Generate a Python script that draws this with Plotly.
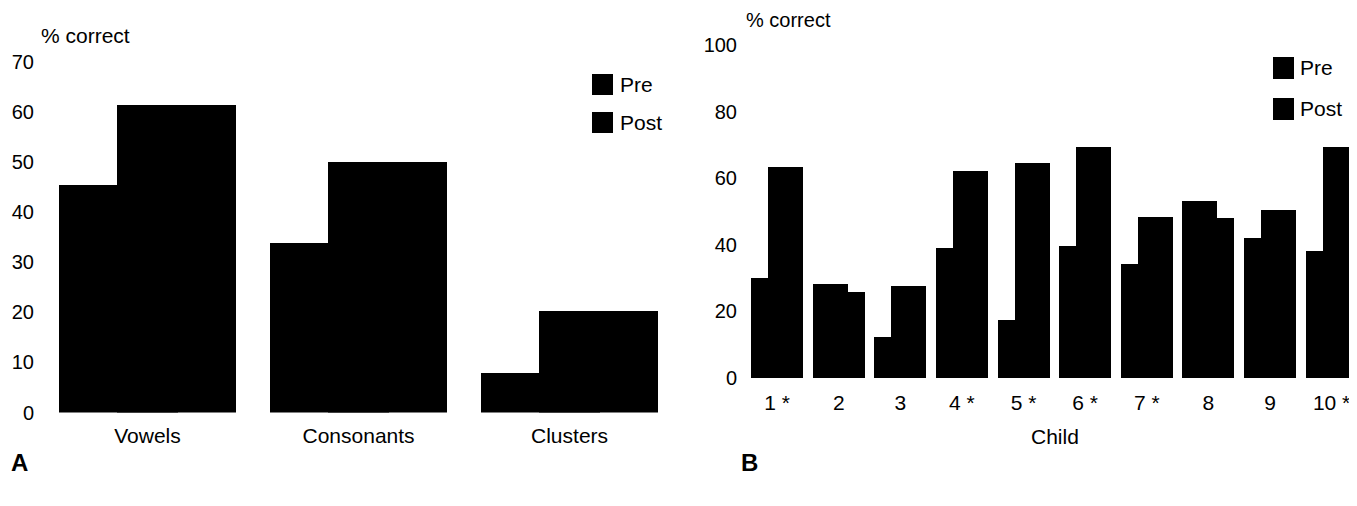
import plotly.graph_objects as go

# ---------------- data ----------------
groups_a = ["Vowels", "Consonants", "Clusters"]
pre_a = [45.5, 33.8, 7.8]
post_a = [61.4, 50.0, 20.2]

children = [1, 2, 3, 4, 5, 6, 7, 8, 9, 10]
child_labels = ["1 *", "2", "3", "4 *", "5 *", "6 *", "7 *", "8", "9", "10 *"]
pre_b = [29.9, 28.1, 12.4, 39.0, 17.3, 39.6, 34.2, 53.1, 42.1, 38.0]
post_b = [63.5, 25.7, 27.5, 62.2, 64.7, 69.3, 48.4, 48.0, 50.5, 69.3]

ticks_a = [0, 10, 20, 30, 40, 50, 60, 70]
ticks_b = [0, 20, 40, 60, 80, 100]

# page body has an 8px default margin; figure sized to fill the rest of the window
OFF = 8
W, H = 1357 - OFF, 506 - OFF
FONT = "Liberation Sans, Arial, Helvetica, sans-serif"


def px(x):
    return (x - OFF) / W


def py(y):
    return 1 - (y - OFF) / H


fig = go.Figure()
xa = list(range(len(groups_a)))

fig.add_trace(go.Bar(x=xa, y=pre_a, offset=-0.4194, width=0.564,
                     marker=dict(color="black", line=dict(width=0)),
                     xaxis="x", yaxis="y", showlegend=False, name="Pre"))
fig.add_trace(go.Bar(x=xa, y=post_a, offset=-0.1445, width=0.564,
                     marker=dict(color="black", line=dict(width=0)),
                     xaxis="x", yaxis="y", showlegend=False, name="Post"))
fig.add_trace(go.Bar(x=children, y=pre_b, offset=-0.4227, width=0.567,
                     marker=dict(color="black", line=dict(width=0)),
                     xaxis="x2", yaxis="y2", showlegend=False, name="Pre"))
fig.add_trace(go.Bar(x=children, y=post_b, offset=-0.145, width=0.567,
                     marker=dict(color="black", line=dict(width=0)),
                     xaxis="x2", yaxis="y2", showlegend=False, name="Post"))

axis_common = dict(showgrid=False, zeroline=False, showline=False, ticks="",
                   tickfont=dict(family=FONT, size=20, color="black"))
cat_font = dict(family=FONT, size=21, color="black")

fig.update_layout(
    width=W, height=H,
    margin=dict(l=0, r=0, t=0, b=0, autoexpand=False),
    paper_bgcolor="white", plot_bgcolor="white",
    barmode="overlay", bargap=0,
    font=dict(family=FONT, color="black"),
    xaxis=dict(domain=[px(40), px(670)], range=[-0.5095, 2.476],
               tickvals=xa, ticktext=groups_a, anchor="y",
               ticklabelstandoff=8, **{**axis_common, "tickfont": cat_font}),
    yaxis=dict(domain=[py(412.5), py(62)], range=[0, 70], tickvals=ticks_a,
               anchor="x", ticklabelstandoff=5, **axis_common),
    xaxis2=dict(domain=[px(744), 1.0], range=[0.4622, 10.544 - OFF / 60.8],
                tickvals=children, ticktext=child_labels, anchor="y2",
                ticklabelstandoff=10, **{**axis_common, "tickfont": cat_font}),
    yaxis2=dict(domain=[py(378), py(45)], range=[0, 100], tickvals=ticks_b,
                anchor="x2", ticklabelstandoff=6, **axis_common),
)

shapes = []
annotations = []


def legend_item(x0, y0, x1, y1, tx, label):
    shapes.append(dict(type="rect", xref="paper", yref="paper",
                       x0=px(x0), x1=px(x1), y0=py(y1), y1=py(y0),
                       fillcolor="black", line=dict(width=0)))
    annotations.append(dict(xref="paper", yref="paper", x=px(tx), y=py((y0 + y1) / 2),
                            text=label, showarrow=False, xanchor="left", yanchor="middle",
                            font=dict(family=FONT, size=21, color="black")))


legend_item(592, 74, 613, 95, 618, "Pre")
legend_item(592, 112, 613, 133, 618, "Post")
legend_item(1273, 57, 1294, 79, 1298, "Pre")
legend_item(1273, 98, 1294, 120, 1298, "Post")


def text(x, y, s, size=21, anchor="left", bold=False, yanchor="middle"):
    annotations.append(dict(xref="paper", yref="paper", x=px(x), y=py(y),
                            text=f"<b>{s}</b>" if bold else s, showarrow=False,
                            xanchor=anchor, yanchor=yanchor, borderpad=0,
                            font=dict(family=FONT, size=size, color="black")))


text(40, 35, "% correct")
text(745, 8, "% correct", size=20, yanchor="top")
text(1055, 436, "Child", anchor="center")
text(10, 462, "A", size=24, bold=True)
text(740, 462, "B", size=24, bold=True)

fig.update_layout(shapes=shapes, annotations=annotations)
fig.write_html("out.html")
